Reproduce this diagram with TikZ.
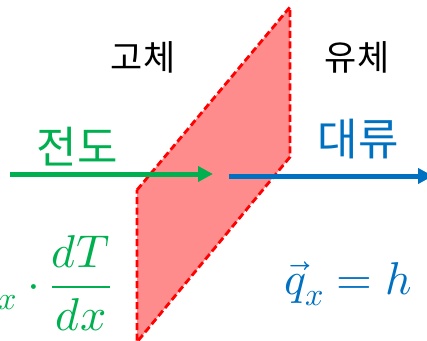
\documentclass[tikz,border=0pt]{standalone}
\usepackage{fontspec}
\usepackage{unicode-math}
\newfontfamily\kor{Noto Sans CJK KR}
\usetikzlibrary{arrows.meta, positioning}
\definecolor{condgreen}{RGB}{0,176,80}
\definecolor{convblue}{RGB}{0,112,192}
\tikzset{
    wall/.style={draw=red, fill=red!45, line width=2.8pt, dash pattern=on 7pt off 3.5pt},
    flux/.style={-{Triangle[length=15pt, width=15pt]}, line width=5pt},
    side/.style={font=\kor\fontsize{35}{40}\selectfont, text=black},
    mode/.style={font=\kor\fontsize{44}{48}\selectfont},
    eqn/.style={font=\fontsize{46}{50}\selectfont}
}
\begin{document}
\begin{tikzpicture}[x=1pt, y=-1pt]
        \useasboundingbox (0,0) rectangle (427,340);
        \clip (0,0) rectangle (427,340);
        \draw[wall] (137,190) -- (290,7) -- (290,157) -- (137,342) -- cycle;
        \coordinate (condA) at (10,174);
        \coordinate (condB) at (213,174);
        \coordinate (convA) at (229,176);
        \coordinate (convB) at (433,176);
        \draw[flux, condgreen] (condA) -- (condB);
        \draw[flux, convblue] (convA) -- (convB);
        \node[side] (solid) at (143,57) {고체};
        \node[side] (fluid) at (357,57) {유체};
        \node[mode, text=condgreen] (cond) at (77,147) {전도};
        \node[mode, text=convblue] (conv) at (358,139) {대류};
        \node[eqn, text=condgreen, anchor=east] (fourier) at (115,283) {$-k_x\cdot\dfrac{dT}{dx}$};
        \node[eqn, text=convblue, anchor=base west] (newton) at (281,294) {$\vec{q}_x=h$};
\end{tikzpicture}
\end{document}
